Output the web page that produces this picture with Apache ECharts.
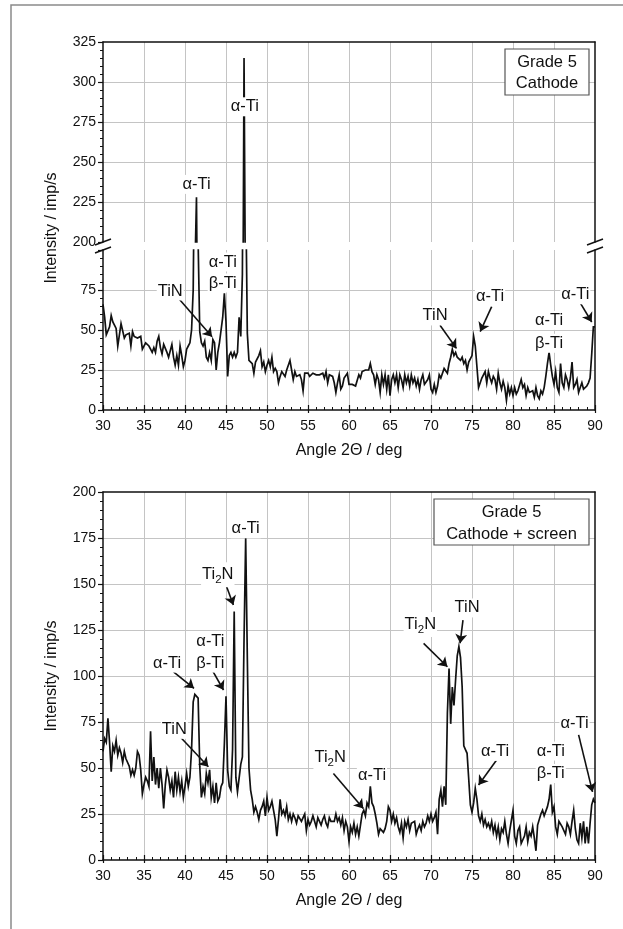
<!DOCTYPE html>
<html>
<head>
<meta charset="utf-8">
<title>Grade 5 XRD</title>
<script src="https://cdn.jsdelivr.net/npm/echarts@6/dist/echarts.min.js"></script>
<style>
  html, body { margin: 0; padding: 0; background: #fff; }
  #chart { width: 623px; height: 929px; }
</style>
</head>
<body>
<div id="chart"></div>
<script>
// Scan grid: 30 to 90 deg, 0.2 deg step
const angleStart = 30;
const angleStep = 0.2;

// Grade 5, cathode (imp/s), one row per degree
const cathode = [
  66, 58, 47, 48, 52,   59, 55, 53, 51, 40,   47, 54, 54, 45, 47,   48, 48, 40, 49, 46,   // 30-33
  45, 45, 46, 46, 38,   37, 42, 41, 40, 38,   36, 39, 36, 43, 46,   39, 35, 41, 41, 36,   // 34-37
  33, 34, 41, 33, 28,   34, 28, 40, 34, 27,   31, 38, 40, 42, 50,   75, 180, 228, 105, 49, // 38-41
  42, 40, 43, 33, 31,   36, 31, 44, 42, 25,   36, 42, 50, 58, 73,   55, 21, 34, 36, 33,   // 42-45
  36, 33, 36, 58, 46,   85, 315, 140, 48, 31, 30, 29, 23, 30, 29,   34, 37, 27, 30, 24,   // 46-49
  28, 31, 27, 33, 24,   26, 24, 17, 21, 24,   23, 21, 25, 28, 31,   25, 19, 24, 21, 21,   // 50-53
  22, 19, 12, 23, 22,   23, 21, 22, 23, 22,   22, 23, 22, 21, 23,   20, 24, 17, 22, 21,   // 54-57
  21, 17, 11, 17, 22,   13, 15, 20, 21, 23,   16, 17, 16, 16, 15,   16, 22, 20, 24, 25,   // 58-61
  25, 24, 25, 29, 24,   22, 16, 22, 19, 11,   22, 16, 22, 13, 22,   9, 19, 22, 17, 22,    // 62-65
  14, 22, 19, 14, 22,   17, 21, 15, 22, 17,   20, 15, 19, 13, 19,   22, 16, 16, 19, 22,   // 66-69
  13, 11, 16, 11, 15,   22, 20, 19, 26, 25,   23, 29, 33, 38, 34,   36, 33, 34, 31, 33,   // 70-73
  29, 31, 25, 30, 29,   34, 46, 40, 27, 14,   15, 20, 19, 24, 17,   24, 20, 17, 21, 19,   // 74-77
  13, 23, 17, 13, 18,   14, 6, 15, 10, 14,    9, 14, 10, 12, 13,    19, 14, 16, 9, 14,    // 78-81
  11, 10, 12, 8, 14,    9, 7, 12, 10, 14,     21, 29, 36, 28, 21,   16, 24, 14, 11, 29,   // 82-85
  17, 14, 22, 19, 14,   20, 30, 14, 16, 19,   11, 14, 17, 13, 12,   15, 17, 20, 35, 52,   // 86-89
  52
];

// Grade 5, cathode + screen (imp/s)
const cathodeScreen = [
  59, 66, 64, 77, 64,   48, 62, 59, 65, 57,   61, 58, 53, 59, 55,   56, 51, 46, 49, 46,   // 30-33
  50, 59, 57, 49, 36,   41, 45, 43, 40, 70,   43, 56, 41, 50, 39,   50, 41, 28, 41, 49,   // 34-37
  45, 38, 43, 34, 48,   38, 45, 37, 43, 34,   40, 47, 40, 45, 60,   86, 90, 89, 88, 51,   // 38-41
  34, 40, 36, 47, 42,   49, 34, 40, 31, 42,   32, 34, 40, 42, 63,   89, 49, 40, 38, 60,   // 42-45
  135, 45, 37, 36, 52,  56, 120, 175, 110, 50, 38, 33, 26, 29, 26,  22, 27, 29, 32, 24,   // 46-49
  34, 27, 29, 32, 27,   22, 13, 22, 33, 25,   27, 24, 29, 22, 25,   21, 25, 23, 20, 24,   // 50-53
  25, 21, 23, 25, 16,   22, 19, 21, 24, 21,   18, 23, 21, 19, 22,   24, 20, 18, 23, 21,   // 54-57
  22, 21, 25, 21, 23,   19, 23, 16, 21, 18,   10, 18, 15, 20, 14,   18, 13, 19, 25, 27,   // 58-61
  24, 31, 29, 40, 31,   29, 25, 20, 14, 17,   18, 15, 17, 21, 29,   27, 21, 25, 20, 23,   // 62-65
  18, 15, 20, 12, 21,   18, 22, 16, 20, 19,   21, 14, 17, 19, 16,   21, 18, 20, 24, 21,   // 66-69
  25, 21, 23, 26, 14,   33, 38, 29, 40, 30,   80, 104, 74, 94, 84,  98, 111, 116, 110, 94, // 70-73
  62, 60, 58, 44, 30,   26, 31, 39, 33, 24,   21, 25, 19, 22, 18,   20, 17, 21, 15, 19,   // 74-77
  13, 18, 11, 17, 15,   21, 14, 9, 16, 17,    27, 13, 9, 16, 18,    9, 11, 13, 18, 10,    // 78-81
  15, 13, 18, 12, 5,    19, 18, 25, 27, 24,   25, 29, 33, 41, 26,   29, 18, 14, 21, 20,   // 82-85
  18, 19, 14, 20, 18,   14, 21, 27, 17, 11,   9, 20, 12, 21, 9,     18, 9, 20, 30, 33,    // 86-89
  31
];

// Tick labels / axis ranges
const xTicks = [30, 35, 40, 45, 50, 55, 60, 65, 70, 75, 80, 85, 90];
const topUpperRange = [200, 325];
const topLowerRange = [0, 100];
const bottomRange = [0, 200];

// Phase annotations, [angle, intensity]
const topUpperLabels = [
  { name: 'α-Ti', value: [41.4, 236] },
  { name: 'α-Ti', value: [47.3, 284.5] }
];
const topLowerLabels = [
  { name: 'α-Ti', value: [44.6, 92.5] },
  { name: 'β-Ti', value: [44.6, 79.4] },
  { name: 'TiN', value: [38.2, 74.4] },
  { name: 'TiN', value: [70.5, 58.8] },
  { name: 'α-Ti', value: [77.2, 70.8] },
  { name: 'α-Ti', value: [84.4, 56] },
  { name: 'β-Ti', value: [84.4, 41.7] },
  { name: 'α-Ti', value: [87.6, 72] }
];
const topLowerArrows = [
  [[39.2, 69.8], [43.3, 45.8]],
  [[71.1, 53], [73.1, 38.5]],
  [[77.4, 64.6], [76.0, 49]],
  [[88.2, 67], [89.6, 55]]
];
const bottomLabels = [
  { name: 'α-Ti', value: [47.4, 180] },
  { name: 'Ti2N', value: [44.0, 155] },
  { name: 'α-Ti', value: [43.1, 119] },
  { name: 'β-Ti', value: [43.1, 107] },
  { name: 'α-Ti', value: [37.8, 107] },
  { name: 'TiN', value: [38.7, 71] },
  { name: 'Ti2N', value: [57.7, 56] },
  { name: 'α-Ti', value: [62.8, 46] },
  { name: 'Ti2N', value: [68.7, 128] },
  { name: 'TiN', value: [74.4, 137] },
  { name: 'α-Ti', value: [77.8, 59] },
  { name: 'α-Ti', value: [84.6, 59.2] },
  { name: 'β-Ti', value: [84.6, 47] },
  { name: 'α-Ti', value: [87.5, 74.3] }
];
const bottomArrows = [
  [[45.0, 149.5], [45.9, 138.6]],
  [[43.3, 103.3], [44.7, 92.4]],
  [[38.6, 102.3], [41.1, 93.3]],
  [[39.4, 67], [42.85, 50.7]],
  [[58.1, 47], [61.75, 28]],
  [[69.1, 117.7], [72.0, 105]],
  [[73.9, 130.4], [73.55, 117.8]],
  [[78.0, 54.3], [75.8, 40.8]],
  [[88.0, 68], [89.7, 37]]
];

const FONT = '"Liberation Sans", Arial, Helvetica, sans-serif';
const INK = '#111';
const GRID_LINE = '#c4c4c4';

const angles = cathode.map((_, i) => +(angleStart + i * angleStep).toFixed(1));
const toPairs = vals => vals.map((v, i) => [angles[i], v]);

// x axes
function xMain(gridIndex, withLabels) {
  return {
    type: 'value', gridIndex: gridIndex, position: 'bottom',
    min: xTicks[0], max: xTicks[xTicks.length - 1], interval: 5,
    axisLine: { show: withLabels, onZero: false, lineStyle: { color: INK, width: 1.5 } },
    axisTick: { show: withLabels, inside: true, length: 5, lineStyle: { color: INK, width: 1.2 } },
    minorTick: { show: withLabels, splitNumber: 5, length: 3, lineStyle: { color: INK, width: 1 } },
    axisLabel: { show: withLabels, color: INK, fontFamily: FONT, fontSize: 14, margin: 9 },
    splitLine: { show: true, showMinLine: false, showMaxLine: false, lineStyle: { color: GRID_LINE, width: 1 } },
    name: withLabels ? 'Angle 2Θ / deg' : '',
    nameLocation: 'middle', nameGap: 33,
    nameTextStyle: { color: INK, fontFamily: FONT, fontSize: 16 }
  };
}
function xOuterTicks(gridIndex) {
  return {
    type: 'value', gridIndex: gridIndex, position: 'bottom', min: 30, max: 90, interval: 5,
    axisLine: { show: false, onZero: false },
    axisTick: { show: true, length: 3, lineStyle: { color: INK, width: 1.2 } },
    axisLabel: { show: false }, splitLine: { show: false }
  };
}
function xTopBorder(gridIndex) {
  return {
    type: 'value', gridIndex: gridIndex, position: 'top', min: 30, max: 90,
    axisLine: { show: true, onZero: false, lineStyle: { color: INK, width: 1.5 } },
    axisTick: { show: false }, axisLabel: { show: false }, splitLine: { show: false }
  };
}

// y axes
function yMain(gridIndex, range, hideMax) {
  return {
    type: 'value', gridIndex: gridIndex, position: 'left', min: range[0], max: range[1], interval: 25,
    axisLine: { show: true, onZero: false, lineStyle: { color: INK, width: 1.5 } },
    axisTick: { show: true, length: 5, lineStyle: { color: INK, width: 1.2 } },
    minorTick: { show: true, splitNumber: 5, length: 3, lineStyle: { color: INK, width: 1 } },
    axisLabel: { color: INK, fontFamily: FONT, fontSize: 14, margin: 7, showMaxLabel: !hideMax },
    splitLine: { show: true, showMinLine: false, showMaxLine: false, lineStyle: { color: GRID_LINE, width: 1 } }
  };
}
function yRightBorder(gridIndex, range) {
  return {
    type: 'value', gridIndex: gridIndex, position: 'right', min: range[0], max: range[1],
    axisLine: { show: true, onZero: false, lineStyle: { color: INK, width: 1.5 } },
    axisTick: { show: false }, axisLabel: { show: false }, splitLine: { show: false }
  };
}

function traceSeries(xi, yi, vals) {
  return {
    type: 'line', xAxisIndex: xi, yAxisIndex: yi, data: toPairs(vals),
    showSymbol: false, symbol: 'none', clip: true, z: 3,
    lineStyle: { color: INK, width: 1.7, join: 'miter' }
  };
}
function labelSeries(xi, yi, items) {
  return {
    type: 'scatter', xAxisIndex: xi, yAxisIndex: yi, data: items,
    symbolSize: 0, z: 6,
    itemStyle: { opacity: 1 },
    label: {
      show: true, position: 'inside', color: INK, opacity: 1,
      fontFamily: FONT, fontSize: 16.5,
      backgroundColor: '#fff', padding: [1, 1],
      formatter: p => p.name === 'Ti2N' ? '{n|Ti}{s|2}{n|N}' : p.name,
      rich: {
        n: { fontFamily: FONT, fontSize: 16.5, color: INK },
        s: { fontFamily: FONT, fontSize: 11.5, color: INK, padding: [11, 0, 0, 0] }
      }
    }
  };
}
function arrowSeries(xi, yi, arrows) {
  return {
    type: 'lines', coordinateSystem: 'cartesian2d', xAxisIndex: xi, yAxisIndex: yi,
    data: arrows.map(c => ({ coords: c })),
    symbol: ['none', 'arrow'], symbolSize: 9, z: 5,
    lineStyle: { color: INK, width: 1.6, opacity: 1, curveness: 0 }
  };
}

function breakMarks(x) {
  return [
    { type: 'line', shape: { x1: x - 8, y1: 245, x2: x + 8, y2: 239 }, style: { stroke: INK, lineWidth: 1.5 } },
    { type: 'line', shape: { x1: x - 8, y1: 253, x2: x + 8, y2: 247 }, style: { stroke: INK, lineWidth: 1.5 } }
  ];
}

const chart = echarts.init(document.getElementById('chart'), null, { renderer: 'canvas' });
const option = {
  animation: false,
  backgroundColor: '#fff',
  grid: [
    { left: 103, top: 42, width: 492, height: 200 },
    { left: 103, top: 250, width: 492, height: 160 },
    { left: 103, top: 492, width: 492, height: 368 }
  ],
  xAxis: [
    xMain(0, false), xTopBorder(0),
    xMain(1, true), xOuterTicks(1),
    xMain(2, true), xOuterTicks(2), xTopBorder(2)
  ],
  yAxis: [
    yMain(0, topUpperRange, false), yRightBorder(0, topUpperRange),
    yMain(1, topLowerRange, true), yRightBorder(1, topLowerRange),
    yMain(2, bottomRange, false), yRightBorder(2, bottomRange)
  ],
  series: [
    traceSeries(0, 0, cathode),
    traceSeries(2, 2, cathode),
    traceSeries(4, 4, cathodeScreen),
    labelSeries(0, 0, topUpperLabels),
    labelSeries(2, 2, topLowerLabels),
    arrowSeries(2, 2, topLowerArrows),
    labelSeries(4, 4, bottomLabels),
    arrowSeries(4, 4, bottomArrows)
  ],
  graphic: [
    // outer frame
    { type: 'rect', shape: { x: 11, y: 5, width: 700, height: 1000 }, style: { fill: 'none', stroke: '#8a8a8a', lineWidth: 1.5 }, z: 10 },
    // y titles
    { type: 'text', x: 52, y: 228, rotation: Math.PI / 2, style: { text: 'Intensity / imp/s', font: '16px ' + FONT, fill: INK, textAlign: 'center', textVerticalAlign: 'middle' }, z: 10 },
    { type: 'text', x: 52, y: 676, rotation: Math.PI / 2, style: { text: 'Intensity / imp/s', font: '16px ' + FONT, fill: INK, textAlign: 'center', textVerticalAlign: 'middle' }, z: 10 },
    // sample boxes
    { type: 'rect', shape: { x: 505, y: 49, width: 84, height: 46 }, style: { fill: '#fff', stroke: '#555', lineWidth: 1.2 }, z: 10 },
    { type: 'text', x: 547, y: 62, style: { text: 'Grade 5', font: '16.5px ' + FONT, fill: INK, textAlign: 'center', textVerticalAlign: 'middle' }, z: 11 },
    { type: 'text', x: 547, y: 83, style: { text: 'Cathode', font: '16.5px ' + FONT, fill: INK, textAlign: 'center', textVerticalAlign: 'middle' }, z: 11 },
    { type: 'rect', shape: { x: 434, y: 499, width: 155, height: 46 }, style: { fill: '#fff', stroke: '#555', lineWidth: 1.2 }, z: 10 },
    { type: 'text', x: 511.5, y: 512, style: { text: 'Grade 5', font: '16.5px ' + FONT, fill: INK, textAlign: 'center', textVerticalAlign: 'middle' }, z: 11 },
    { type: 'text', x: 511.5, y: 534, style: { text: 'Cathode + screen', font: '16.5px ' + FONT, fill: INK, textAlign: 'center', textVerticalAlign: 'middle' }, z: 11 }
  ].concat(breakMarks(103), breakMarks(595))
};
chart.setOption(option);
</script>
</body>
</html>
